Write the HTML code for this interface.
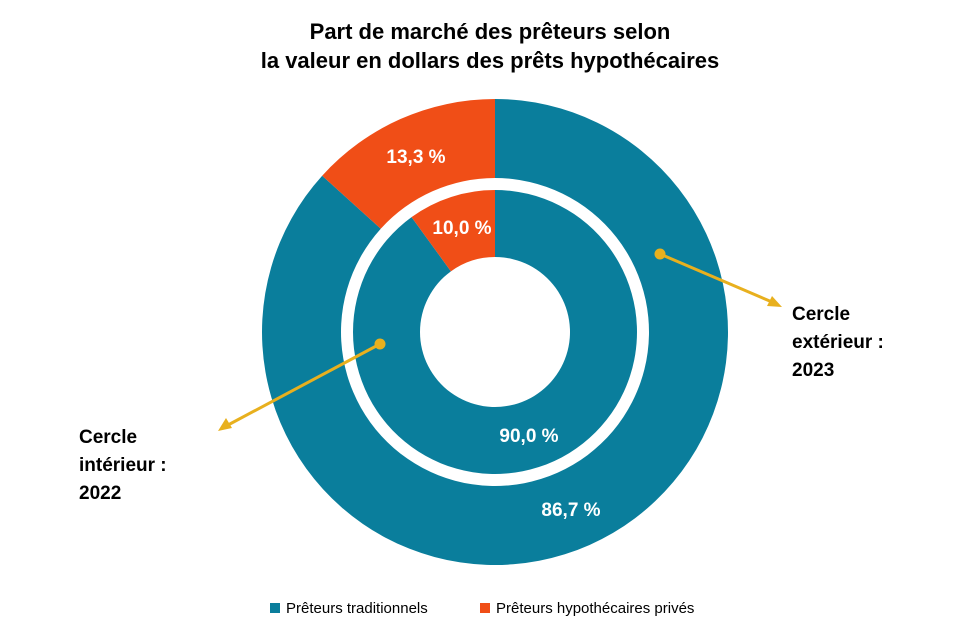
<!DOCTYPE html>
<html><head><meta charset="utf-8"><style>
body{margin:0;background:#fff;font-family:"Liberation Sans",Arial,sans-serif}
svg{display:block}
</style></head><body>
<svg width="971" height="636" viewBox="0 0 971 636">
<text x="490" y="39" text-anchor="middle" font-size="22" font-weight="bold" fill="#000">Part de marché des prêteurs selon</text>
<text x="490" y="68" text-anchor="middle" font-size="22" font-weight="bold" fill="#000">la valeur en dollars des prêts hypothécaires</text>
<g id="rings"></g>
<g>
<line x1="660" y1="254" x2="772" y2="302" stroke="#E8B01E" stroke-width="3"/>
<polygon points="782,307 767,306 772,296" fill="#E8B01E"/>
<circle cx="660" cy="254" r="5.5" fill="#E8B01E"/>
<text font-size="19" font-weight="bold" fill="#000"><tspan x="792" y="320">Cercle</tspan><tspan x="792" y="348">extérieur :</tspan><tspan x="792" y="376">2023</tspan></text>
</g>
<g>
<line x1="380" y1="344" x2="228" y2="425" stroke="#E8B01E" stroke-width="3"/>
<polygon points="218,431 226,418 232,428" fill="#E8B01E"/>
<circle cx="380" cy="344" r="5.5" fill="#E8B01E"/>
<text font-size="19" font-weight="bold" fill="#000"><tspan x="79" y="443">Cercle</tspan><tspan x="79" y="471">intérieur :</tspan><tspan x="79" y="499">2022</tspan></text>
</g>
<g>
<rect x="270" y="603" width="10" height="10" fill="#0A7E9C"/>
<text x="286" y="613" font-size="15" fill="#000">Prêteurs traditionnels</text>
<rect x="480" y="603" width="10" height="10" fill="#F04E17"/>
<text x="496" y="613" font-size="15" fill="#000">Prêteurs hypothécaires privés</text>
</g>
</svg>
<script>
const categories = ["Prêteurs traditionnels", "Prêteurs hypothécaires privés"];
const outer2023 = [86.7, 13.3];
const inner2022 = [90.0, 10.0];
const colors = ["#0A7E9C", "#F04E17"];
const cx = 495, cy = 332;
const g = document.getElementById("rings");
const NS = "http://www.w3.org/2000/svg";
function pt(r, a){return [cx + r*Math.sin(a), cy - r*Math.cos(a)];}
function drawRing(vals, r0, r1, name, labelR, labelPos){
  const total = vals.reduce((a,b)=>a+b,0);
  let a = 0;
  vals.forEach((v,i)=>{
    const da = v/total*2*Math.PI;
    const a0 = a, a1 = a + da;
    const [x0,y0] = pt(r1,a0), [x1,y1] = pt(r1,a1), [x2,y2] = pt(r0,a1), [x3,y3] = pt(r0,a0);
    const lg = da > Math.PI ? 1 : 0;
    const p = document.createElementNS(NS,"path");
    p.setAttribute("d",`M${x0},${y0}A${r1},${r1} 0 ${lg} 1 ${x1},${y1}L${x2},${y2}A${r0},${r0} 0 ${lg} 0 ${x3},${y3}Z`);
    p.setAttribute("fill",colors[i]);
    
    
    g.appendChild(p);
    const t = document.createElementNS(NS,"text");
    const [lx,ly] = labelPos[i];
    t.setAttribute("x",lx); t.setAttribute("y",ly);
    t.setAttribute("text-anchor","middle"); t.setAttribute("font-size","19");
    t.setAttribute("font-weight","bold"); t.setAttribute("fill","#fff");
    t.textContent = v.toFixed(1).replace(".",",") + " %";
    
    
    g.appendChild(t);
    a = a1;
  });
}
drawRing(outer2023, 154, 233, "outer-2023", 0, [[571,516],[416,163]]);
const sep = document.createElementNS(NS,"circle");
sep.setAttribute("cx",cx); sep.setAttribute("cy",cy); sep.setAttribute("r",148);
sep.setAttribute("fill","#fff");


g.appendChild(sep);
drawRing(inner2022, 75, 142, "inner-2022", 0, [[529,442],[462,234]]);
</script>
</body></html>
